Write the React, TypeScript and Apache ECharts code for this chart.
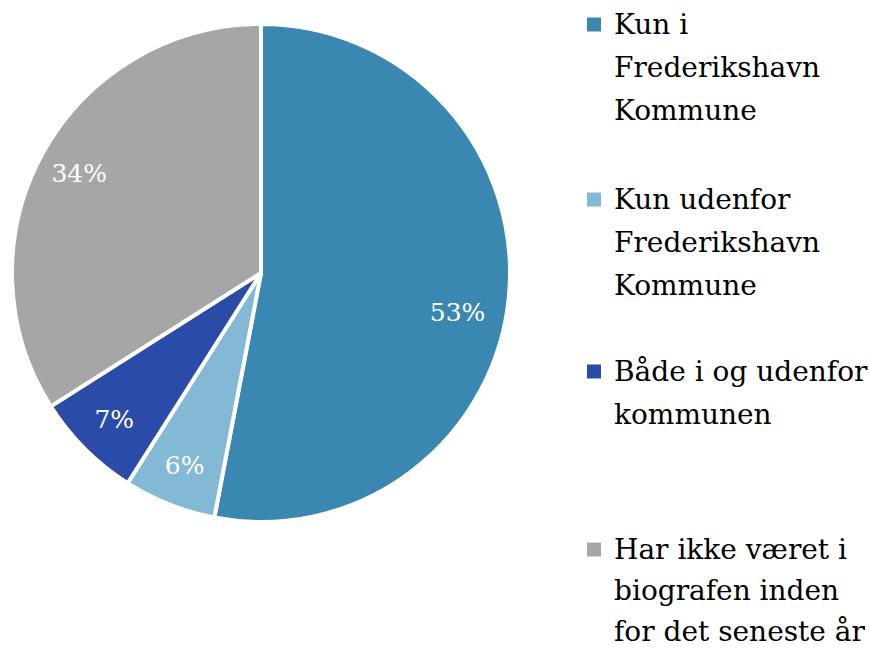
import React, { useEffect, useRef } from "react";
import * as echarts from "echarts";

const categories = [
  "Kun i Frederikshavn Kommune",
  "Kun udenfor Frederikshavn Kommune",
  "Både i og udenfor kommunen",
  "Har ikke været i biografen inden for det seneste år",
];
const legendLines = [
  ["Kun i", "Frederikshavn", "Kommune"],
  ["Kun udenfor", "Frederikshavn", "Kommune"],
  ["Både i og udenfor", "kommunen"],
  ["Har ikke været i", "biografen inden", "for det seneste år"],
];
const values = [53, 6, 7, 34];
const colors = ["#3a87b2", "#84b9d5", "#2b4ba8", "#a6a6a6"];

const FONT = "'DejaVu Serif', serif";

export default function App() {
  const ref = useRef<HTMLDivElement>(null);
  useEffect(() => {
    document.body.style.margin = "0";
    if (!ref.current) return;
    const chart = echarts.init(ref.current, undefined, { renderer: "svg" });
    const data = categories.map((name, i) => ({
      name,
      value: values[i],
      itemStyle: { color: colors[i] },
    }));
    const LHs = [43, 43, 43, 41];
    const legendTops = [3, 178, 350, 529];
    const legends = categories.map((name, i) => {
      const LH = LHs[i];
      const rich: any = {
        g: { width: 13, lineHeight: LH },
        ind: { width: 27, lineHeight: LH },
      };
      rich["sq" + i] = {
        width: 14,
        height: 14,
        backgroundColor: colors[i],
        lineHeight: LH,
      };
      const lines = legendLines[i];
      const text = lines
        .map((l, j) => (j === 0 ? `{sq${i}|}{g|}${l}` : `{ind|}${l}`))
        .join("\n");
      return {
        data: [name],
        orient: "vertical",
        left: 581,
        top: legendTops[i],
        padding: 0,
        itemWidth: 0,
        itemHeight: 0,
        selectedMode: false,
        formatter: () => text,
        textStyle: {
          fontFamily: FONT,
          fontSize: 28,
          lineHeight: LH,
          color: "#000",
          rich,
        },
      };
    });
    chart.setOption({
      animation: false,
      backgroundColor: "#fff",
      legend: legends,
      series: [
        {
          type: "pie",
          center: [261, 273],
          radius: [0, 249],
          startAngle: 90,
          clockwise: true,
          silent: true,
          data,
          itemStyle: { borderColor: "#fff", borderWidth: 4 },
          label: { show: false },
          labelLine: { show: false },
          emphasis: { disabled: true },
        },
        {
          type: "pie",
          center: [261, 273],
          radius: [160, 249],
          startAngle: 90,
          clockwise: true,
          silent: true,
          z: 3,
          data: categories.map((name, i) => ({
            name,
            value: values[i],
            itemStyle: { color: "rgba(0,0,0,0)" },
            label: i === 0 ? { offset: [-10, 20] } : undefined,
          })),
          itemStyle: { borderWidth: 0 },
          label: {
            show: true,
            position: "inside",
            formatter: (p: any) => `${p.value}%`,
            color: "#fff",
            fontFamily: FONT,
            fontSize: 25,
          },
          labelLine: { show: false },
          emphasis: { disabled: true },
        },
      ],
    });
    return () => chart.dispose();
  }, []);
  return <div ref={ref} style={{ width: 869, height: 648 }} />;
}
